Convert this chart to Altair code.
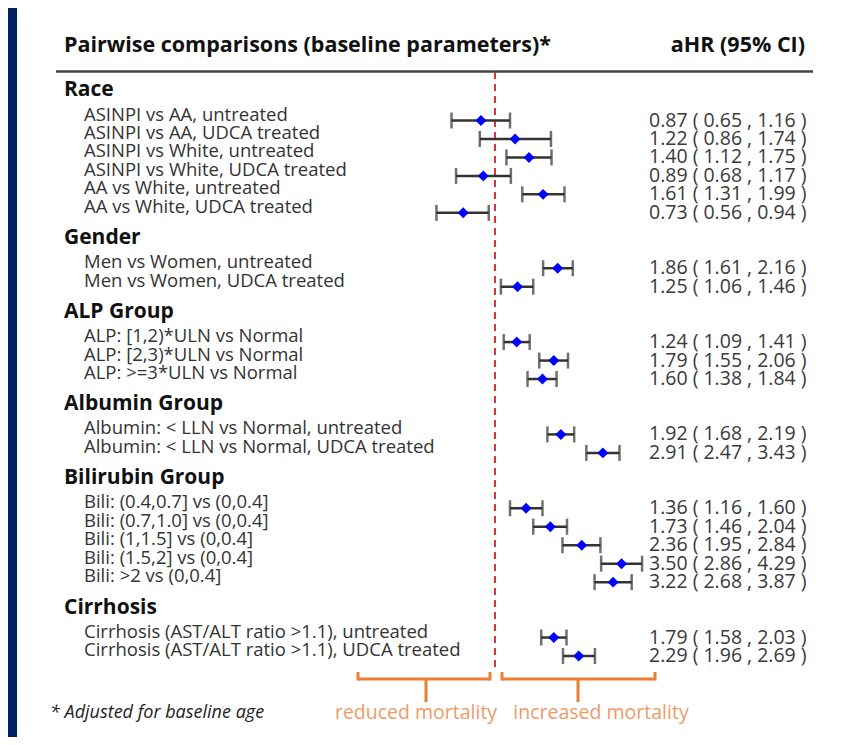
import altair as alt
import pandas as pd

# ---------------- data ----------------
groups = ["Race", "Gender", "ALP Group", "Albumin Group", "Bilirubin Group", "Cirrhosis"]
items = [
    ["ASINPI vs AA, untreated", "ASINPI vs AA, UDCA treated", "ASINPI vs White, untreated",
     "ASINPI vs White, UDCA treated", "AA vs White, untreated", "AA vs White, UDCA treated"],
    ["Men vs Women, untreated", "Men vs Women, UDCA treated"],
    ["ALP: [1,2)*ULN vs Normal", "ALP: [2,3)*ULN vs Normal", "ALP: >=3*ULN vs Normal"],
    ["Albumin: < LLN vs Normal, untreated", "Albumin: < LLN vs Normal, UDCA treated"],
    ["Bili: (0.4,0.7] vs (0,0.4]", "Bili: (0.7,1.0] vs (0,0.4]", "Bili: (1,1.5] vs (0,0.4]",
     "Bili: (1.5,2] vs (0,0.4]", "Bili: >2 vs (0,0.4]"],
    ["Cirrhosis (AST/ALT ratio >1.1), untreated", "Cirrhosis (AST/ALT ratio >1.1), UDCA treated"],
]
hr = [0.87, 1.22, 1.40, 0.89, 1.61, 0.73,
      1.86, 1.25,
      1.24, 1.79, 1.60,
      1.92, 2.91,
      1.36, 1.73, 2.36, 3.50, 3.22,
      1.79, 2.29]
lo = [0.65, 0.86, 1.12, 0.68, 1.31, 0.56,
      1.61, 1.06,
      1.09, 1.55, 1.38,
      1.68, 2.47,
      1.16, 1.46, 1.95, 2.86, 2.68,
      1.58, 1.96]
hi = [1.16, 1.74, 1.75, 1.17, 1.99, 0.94,
      2.16, 1.46,
      1.41, 2.06, 1.84,
      2.19, 3.43,
      1.60, 2.04, 2.84, 4.29, 3.87,
      2.03, 2.69]
reference_hr = [1.0]

# ---------------- tables ----------------
rows, heads = [], []
slot, k = 0, 0
for g, its in zip(groups, items):
    heads.append({"group": g, "slot": slot - 1.3})
    for lab in its:
        rows.append({"label": lab, "slot": slot, "hr": hr[k], "lo": lo[k], "hi": hi[k],
                     "txt": f"{hr[k]:.2f} ( {lo[k]:.2f} , {hi[k]:.2f} )"})
        slot += 1
        k += 1
    slot += 2
df = pd.DataFrame(rows)
dh = pd.DataFrame(heads)
dref = pd.DataFrame({"ref": reference_hr})
one = pd.DataFrame({"a": [0]})

FONT = "Open Sans"
W, H = 838, 729
xs = alt.Scale(type="log", domain=[0.5, 5], range=[417.0, 649.55])
ys = alt.Scale(domain=[0, 29], range=[112.5, 648], nice=False, zero=False)


def X(f):
    return alt.X(f, type="quantitative", scale=xs, axis=None)


Y = alt.Y("slot:Q", scale=ys, axis=None)

base = alt.Chart(df)

panel = alt.Chart(one).mark_rect(color="white").encode(
    x=alt.value(9), x2=alt.value(W), y=alt.value(0), y2=alt.value(H))


def rule(x1, x2, y1, y2, color, w, dash=None):
    kw = dict(color=color, strokeWidth=w, strokeCap="butt")
    if dash:
        kw["strokeDash"] = dash
    return alt.Chart(one).mark_rule(**kw).encode(
        x=alt.value(x1), x2=alt.value(x2), y=alt.value(y1), y2=alt.value(y2))


def label(text, x, y, size, color, weight="normal", style="normal", align="left"):
    return alt.Chart(one).mark_text(text=text, font=FONT, fontSize=size, color=color,
                                    fontWeight=weight, fontStyle=style, align=align,
                                    baseline="middle").encode(x=alt.value(x), y=alt.value(y))


title_l = label("Pairwise comparisons (baseline parameters)*", 56, 38, 21.5, "#111", weight="bold")
title_r = label("aHR (95% CI)", 797, 38, 21.5, "#111", weight="bold", align="right")
top_rule = rule(48, 805, 63.5, 63.5, "#444", 2.5)

ref = alt.Chart(dref).mark_rule(color="#e0313a", strokeWidth=2, strokeDash=[7, 5]).encode(
    x=X("ref"), y=alt.value(64), y2=alt.value(664))

ci = base.mark_rule(color="#333", strokeWidth=2.5).encode(x=X("lo"), x2="hi:Q", y=Y)
cap_l = base.mark_tick(orient="vertical", size=16, thickness=2.5, color="#333").encode(x=X("lo"), y=Y)
cap_r = base.mark_tick(orient="vertical", size=16, thickness=2.5, color="#333").encode(x=X("hi"), y=Y)
pts = base.mark_point(shape="diamond", filled=True, size=120, color="#0000ff", opacity=1).encode(
    x=X("hr"), y=Y)

item_txt = base.mark_text(font=FONT, fontSize=18.5, color="#333", align="left",
                          baseline="middle", dy=-6).encode(x=alt.value(76), y=Y, text="label:N")
val_txt = base.mark_text(font=FONT, fontSize=19.5, color="#3a3a3a", align="left",
                         baseline="middle").encode(x=alt.value(641), y=Y, text="txt:N")
head_txt = alt.Chart(dh).mark_text(font=FONT, fontSize=21, fontWeight="bold", color="#111",
                                   align="left", baseline="middle", dy=-6).encode(
    x=alt.value(56), y=alt.Y("slot:Q", scale=ys, axis=None), text="group:N")

OR = "#ed7d31"
braces = [
    rule(350, 482, 671, 671, OR, 3), rule(350, 350, 664, 672.5, OR, 3), rule(482, 482, 664, 672.5, OR, 3),
    rule(418, 418, 671, 694, OR, 3),
    rule(494, 647, 671, 671, OR, 3), rule(494, 494, 664, 672.5, OR, 3), rule(647, 647, 664, 672.5, OR, 3),
    rule(570, 570, 671, 694, OR, 3),
]
foot = label("* Adjusted for baseline age", 42, 705, 18, "#222", style="italic")
red_t = label("reduced mortality", 408, 705, 19.5, "#ef9a66", align="center")
inc_t = label("increased mortality", 593, 705, 19.5, "#ef9a66", align="center")

chart = alt.layer(
    panel, title_l, title_r, top_rule, ref, ci, cap_l, cap_r, pts,
    item_txt, val_txt, head_txt, *braces, foot, red_t, inc_t
).properties(
    width=W, height=H, padding=0, autosize="none", background="#002060"
).configure_view(stroke=None)

chart.save("out.html", embed_options={"renderer": "svg", "actions": False})
